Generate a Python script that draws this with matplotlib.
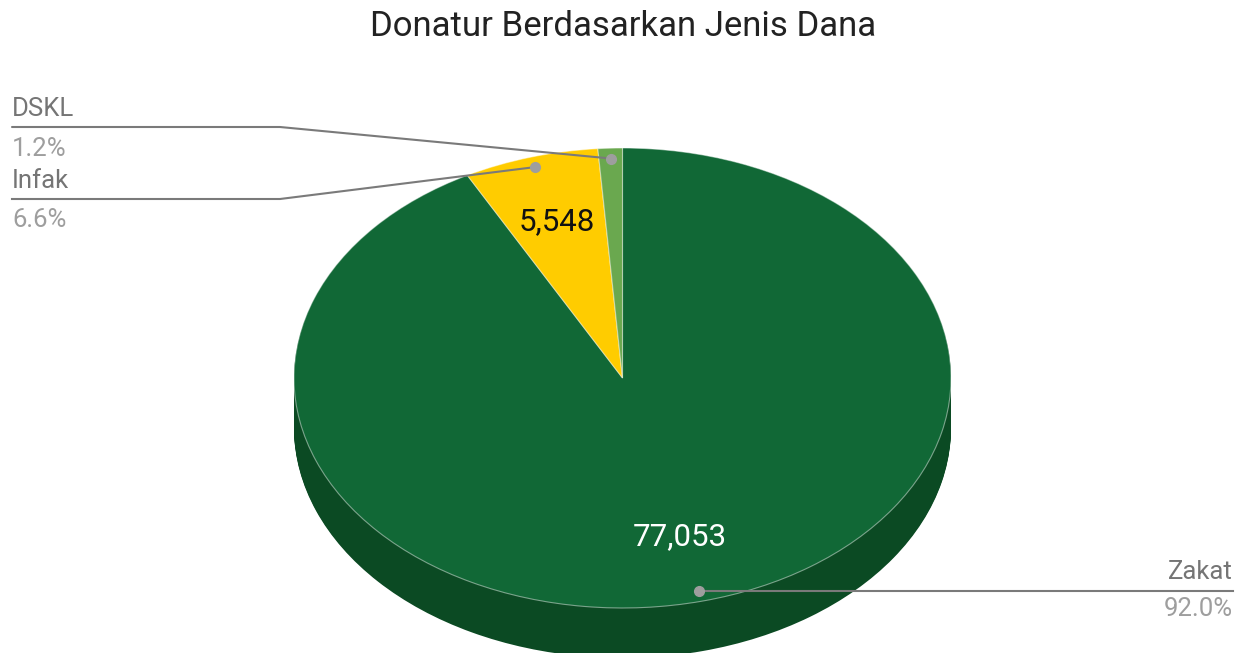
import numpy as np
import matplotlib
matplotlib.use("Agg")
import matplotlib.pyplot as plt

plt.rcParams['font.family'] = ['Roboto', 'DejaVu Sans']

# ---- data ----
categories = ["Zakat", "Infak", "DSKL"]
values = [77053, 5548, 1000]
value_labels = ["77,053", "5,548", ""]
pct_labels = ["92.0%", "6.6%", "1.2%"]
top_colors = ["#116836", "#FFCC00", "#6AA84F"]
side_colors = ["#0B4A23", "#B38F00", "#4A7637"]
title = "Donatur Berdasarkan Jenis Dana"

W, H = 1237, 653
fig = plt.figure(figsize=(W / 100, H / 100), dpi=100)
ax = fig.add_axes([0, 0, 1, 1])

# ellipse geometry (pixels)
cx, cy, rx, ry, depth = 622.5, 378.0, 328.5, 230.0, 50.0


def px(xp, yp):
    return (xp - cx) / rx, (cy - yp) / ry


# 3D side: stacked darker layers
for k in np.linspace(depth, 1, 50):
    ax.pie(values, colors=side_colors, startangle=90, counterclock=False,
           center=(0, -k / ry), radius=1,
           wedgeprops=dict(linewidth=0))

# top face
wedges, _ = ax.pie(values, colors=top_colors, startangle=90, counterclock=False,
                   radius=1, wedgeprops=dict(linewidth=0.8, edgecolor=(1, 1, 1, 0.45)))

total = float(sum(values))
fr = np.array(values) / total
ends = np.cumsum(fr)
mids = ends - fr / 2
# angles measured clockwise from top
ang = mids * 2 * np.pi


def pos(i, r):
    return r * np.sin(ang[i]), r * np.cos(ang[i])

# value labels inside slices
label_colors = ["white", "#111111", "#111111"]
for i, lab in enumerate(value_labels):
    if lab:
        x, y = pos(i, 0.71)
        ax.text(x, y, lab, ha="center", va="center", fontsize=22.5,
                color=label_colors[i])

line_c = "#7a7a7a"
dot_c = "#9e9e9e"
name_c = "#757575"
pct_c = "#9e9e9e"
fs = 18.5

# leader lines and outside labels
# DSKL
i = 2
dx, dy = pos(i, 0.955)
p0 = px(12, 127); p1 = px(280, 127)
ax.plot([p0[0], p1[0], dx], [p0[1], p1[1], dy], color=line_c, lw=1.5,
        solid_capstyle="round")
ax.plot(dx, dy, "o", color=dot_c, ms=7)
ax.text(*px(12, 109), categories[i], ha="left", va="center", fontsize=fs, color=name_c)
ax.text(*px(12, 149), pct_labels[i], ha="left", va="center", fontsize=fs, color=pct_c)

# Infak
i = 1
dx, dy = pos(i, 0.955)
p0 = px(12, 199); p1 = px(280, 199)
ax.plot([p0[0], p1[0], dx], [p0[1], p1[1], dy], color=line_c, lw=1.5)
ax.plot(dx, dy, "o", color=dot_c, ms=7)
ax.text(*px(12, 181), categories[i], ha="left", va="center", fontsize=fs, color=name_c)
ax.text(*px(12, 220), pct_labels[i], ha="left", va="center", fontsize=fs, color=pct_c)

# Zakat
i = 0
dx, dy = pos(i, 0.955)
p1 = px(1233, 0)
ax.plot([dx, p1[0]], [dy, dy], color=line_c, lw=1.5)
ax.plot(dx, dy, "o", color=dot_c, ms=7)
ax.text(*px(1233, 572), categories[i], ha="right", va="center", fontsize=fs, color=name_c)
ax.text(*px(1233, 609), pct_labels[i], ha="right", va="center", fontsize=fs, color=pct_c)

# title
ax.text(*px(623, 26), title, ha="center", va="center", fontsize=25, color="#222222")

ax.set_aspect("auto")
ax.set_xlim((0 - cx) / rx, (W - cx) / rx)
ax.set_ylim((cy - H) / ry, cy / ry)
ax.axis("off")

fig.savefig("out.png", dpi=100, facecolor="white")
